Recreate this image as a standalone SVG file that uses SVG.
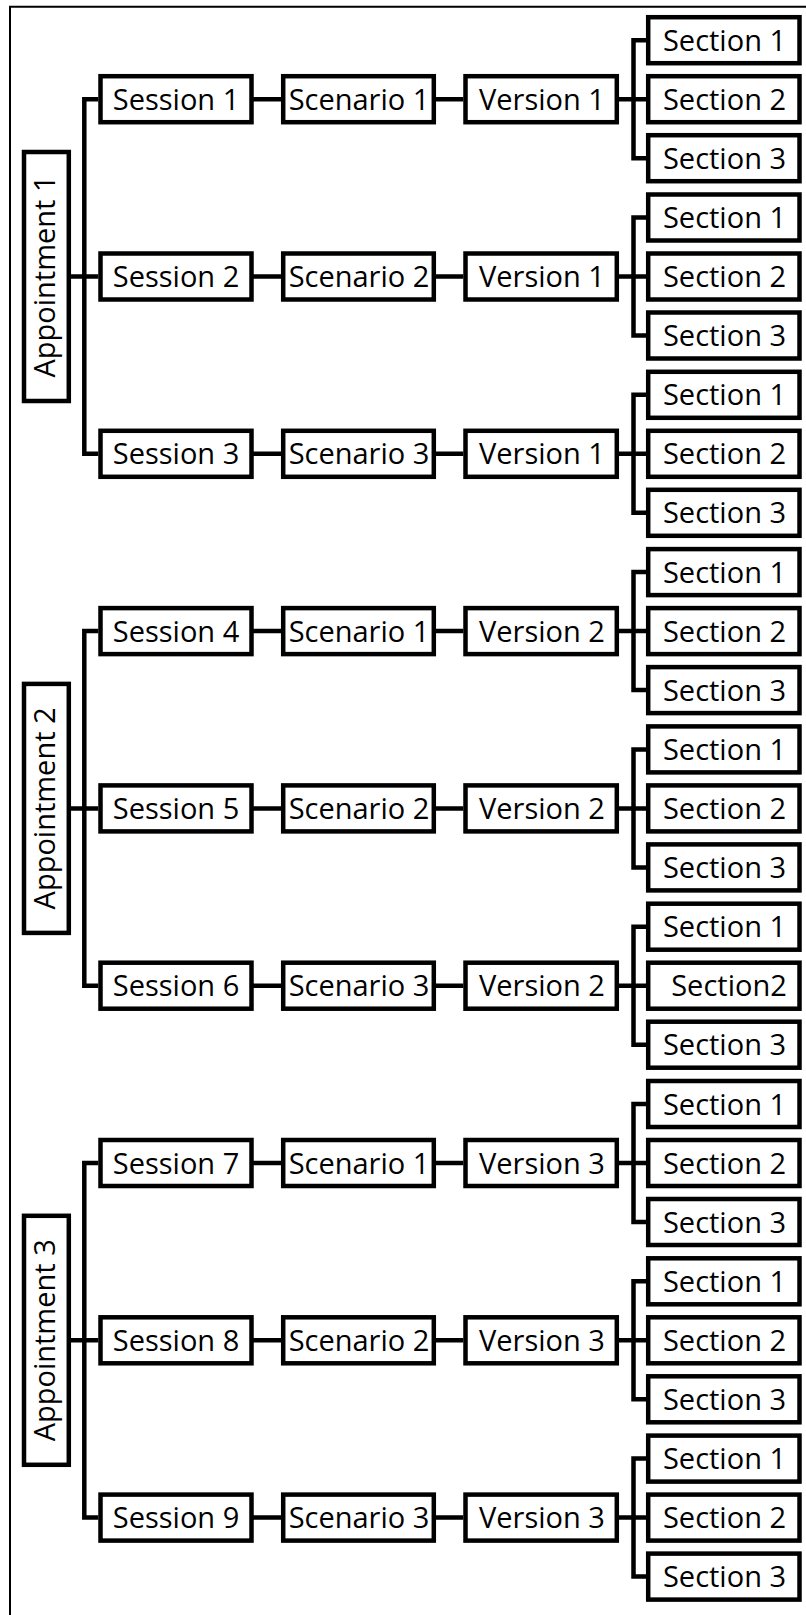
<svg xmlns="http://www.w3.org/2000/svg" width="806" height="1615" viewBox="0 0 806 1615">
<style>
.bx{fill:#fff;stroke:#000;stroke-width:4.5}
.ln{fill:none;stroke:#000;stroke-width:4.5}
.t{font-family:"Open Sans","Liberation Sans",sans-serif;font-size:29px;text-anchor:middle;fill:#000}
</style>
<rect width="806" height="1615" fill="#fff"/>
<path d="M10 1615 V6.7 H806" fill="none" stroke="#000" stroke-width="2"/>
<g id="connectors">
<path class="ln" d="M98.3 99.2 H84.3 V453.8 H98.3 M71 276.5 H98.3"/>
<path class="ln" d="M98.3 631.1 H84.3 V985.7 H98.3 M71 808.4 H98.3"/>
<path class="ln" d="M98.3 1163 H84.3 V1517.6 H98.3 M71 1340.3 H98.3"/>
<path class="ln" d="M253 99.2 H281 M436 99.2 H463.3 M619 99.2 H646 M646 40.2 H633.5 V158.2 H646"/>
<path class="ln" d="M253 276.5 H281 M436 276.5 H463.3 M619 276.5 H646 M646 217.5 H633.5 V335.5 H646"/>
<path class="ln" d="M253 453.8 H281 M436 453.8 H463.3 M619 453.8 H646 M646 394.8 H633.5 V512.8 H646"/>
<path class="ln" d="M253 631.1 H281 M436 631.1 H463.3 M619 631.1 H646 M646 572.1 H633.5 V690.1 H646"/>
<path class="ln" d="M253 808.4 H281 M436 808.4 H463.3 M619 808.4 H646 M646 749.4 H633.5 V867.4 H646"/>
<path class="ln" d="M253 985.7 H281 M436 985.7 H463.3 M619 985.7 H646 M646 926.7 H633.5 V1044.7 H646"/>
<path class="ln" d="M253 1163 H281 M436 1163 H463.3 M619 1163 H646 M646 1104 H633.5 V1222 H646"/>
<path class="ln" d="M253 1340.3 H281 M436 1340.3 H463.3 M619 1340.3 H646 M646 1281.3 H633.5 V1399.3 H646"/>
<path class="ln" d="M253 1517.6 H281 M436 1517.6 H463.3 M619 1517.6 H646 M646 1458.6 H633.5 V1576.6 H646"/>
</g>
<g id="appointment1"><rect class="bx" x="24" y="152" width="44.8" height="249"/><text class="t" transform="rotate(-90)" x="-276.5" y="55">Appointment 1</text></g>
<g id="appointment2"><rect class="bx" x="24" y="683.9" width="44.8" height="249"/><text class="t" transform="rotate(-90)" x="-808.4" y="55">Appointment 2</text></g>
<g id="appointment3"><rect class="bx" x="24" y="1215.8" width="44.8" height="249"/><text class="t" transform="rotate(-90)" x="-1340.3" y="55">Appointment 3</text></g>

<g id="session1"><rect class="bx" x="100.5" y="76.2" width="151" height="46"/><text class="t" x="176" y="109.7">Session 1</text></g>
<g id="scenario1a"><rect class="bx" x="283.2" y="76.2" width="150.6" height="46"/><text class="t" x="359" y="109.7">Scenario 1</text></g>
<g id="version1a"><rect class="bx" x="465.5" y="76.2" width="151.3" height="46"/><text class="t" x="542" y="109.7">Version 1</text></g>
<g id="s1sec1"><rect class="bx" x="648.2" y="17.2" width="151.3" height="46"/><text class="t" x="724.5" y="50.7">Section 1</text></g>
<g id="s1sec2"><rect class="bx" x="648.2" y="76.2" width="151.3" height="46"/><text class="t" x="724.5" y="109.7">Section 2</text></g>
<g id="s1sec3"><rect class="bx" x="648.2" y="135.2" width="151.3" height="46"/><text class="t" x="724.5" y="168.7">Section 3</text></g>

<g id="session2"><rect class="bx" x="100.5" y="253.5" width="151" height="46"/><text class="t" x="176" y="287">Session 2</text></g>
<g id="scenario2a"><rect class="bx" x="283.2" y="253.5" width="150.6" height="46"/><text class="t" x="359" y="287">Scenario 2</text></g>
<g id="version1b"><rect class="bx" x="465.5" y="253.5" width="151.3" height="46"/><text class="t" x="542" y="287">Version 1</text></g>
<g id="s2sec1"><rect class="bx" x="648.2" y="194.5" width="151.3" height="46"/><text class="t" x="724.5" y="228">Section 1</text></g>
<g id="s2sec2"><rect class="bx" x="648.2" y="253.5" width="151.3" height="46"/><text class="t" x="724.5" y="287">Section 2</text></g>
<g id="s2sec3"><rect class="bx" x="648.2" y="312.5" width="151.3" height="46"/><text class="t" x="724.5" y="346">Section 3</text></g>

<g id="session3"><rect class="bx" x="100.5" y="430.8" width="151" height="46"/><text class="t" x="176" y="464.3">Session 3</text></g>
<g id="scenario3a"><rect class="bx" x="283.2" y="430.8" width="150.6" height="46"/><text class="t" x="359" y="464.3">Scenario 3</text></g>
<g id="version1c"><rect class="bx" x="465.5" y="430.8" width="151.3" height="46"/><text class="t" x="542" y="464.3">Version 1</text></g>
<g id="s3sec1"><rect class="bx" x="648.2" y="371.8" width="151.3" height="46"/><text class="t" x="724.5" y="405.3">Section 1</text></g>
<g id="s3sec2"><rect class="bx" x="648.2" y="430.8" width="151.3" height="46"/><text class="t" x="724.5" y="464.3">Section 2</text></g>
<g id="s3sec3"><rect class="bx" x="648.2" y="489.8" width="151.3" height="46"/><text class="t" x="724.5" y="523.3">Section 3</text></g>

<g id="session4"><rect class="bx" x="100.5" y="608.1" width="151" height="46"/><text class="t" x="176" y="641.6">Session 4</text></g>
<g id="scenario1b"><rect class="bx" x="283.2" y="608.1" width="150.6" height="46"/><text class="t" x="359" y="641.6">Scenario 1</text></g>
<g id="version2a"><rect class="bx" x="465.5" y="608.1" width="151.3" height="46"/><text class="t" x="542" y="641.6">Version 2</text></g>
<g id="s4sec1"><rect class="bx" x="648.2" y="549.1" width="151.3" height="46"/><text class="t" x="724.5" y="582.6">Section 1</text></g>
<g id="s4sec2"><rect class="bx" x="648.2" y="608.1" width="151.3" height="46"/><text class="t" x="724.5" y="641.6">Section 2</text></g>
<g id="s4sec3"><rect class="bx" x="648.2" y="667.1" width="151.3" height="46"/><text class="t" x="724.5" y="700.6">Section 3</text></g>

<g id="session5"><rect class="bx" x="100.5" y="785.4" width="151" height="46"/><text class="t" x="176" y="818.9">Session 5</text></g>
<g id="scenario2b"><rect class="bx" x="283.2" y="785.4" width="150.6" height="46"/><text class="t" x="359" y="818.9">Scenario 2</text></g>
<g id="version2b"><rect class="bx" x="465.5" y="785.4" width="151.3" height="46"/><text class="t" x="542" y="818.9">Version 2</text></g>
<g id="s5sec1"><rect class="bx" x="648.2" y="726.4" width="151.3" height="46"/><text class="t" x="724.5" y="759.9">Section 1</text></g>
<g id="s5sec2"><rect class="bx" x="648.2" y="785.4" width="151.3" height="46"/><text class="t" x="724.5" y="818.9">Section 2</text></g>
<g id="s5sec3"><rect class="bx" x="648.2" y="844.4" width="151.3" height="46"/><text class="t" x="724.5" y="877.9">Section 3</text></g>

<g id="session6"><rect class="bx" x="100.5" y="962.7" width="151" height="46"/><text class="t" x="176" y="996.2">Session 6</text></g>
<g id="scenario3b"><rect class="bx" x="283.2" y="962.7" width="150.6" height="46"/><text class="t" x="359" y="996.2">Scenario 3</text></g>
<g id="version2c"><rect class="bx" x="465.5" y="962.7" width="151.3" height="46"/><text class="t" x="542" y="996.2">Version 2</text></g>
<g id="s6sec1"><rect class="bx" x="648.2" y="903.7" width="151.3" height="46"/><text class="t" x="724.5" y="937.2">Section 1</text></g>
<g id="s6sec2"><rect class="bx" x="648.2" y="962.7" width="151.3" height="46"/><text class="t" x="729" y="996.2">Section2</text></g>
<g id="s6sec3"><rect class="bx" x="648.2" y="1021.7" width="151.3" height="46"/><text class="t" x="724.5" y="1055.2">Section 3</text></g>

<g id="session7"><rect class="bx" x="100.5" y="1140" width="151" height="46"/><text class="t" x="176" y="1173.5">Session 7</text></g>
<g id="scenario1c"><rect class="bx" x="283.2" y="1140" width="150.6" height="46"/><text class="t" x="359" y="1173.5">Scenario 1</text></g>
<g id="version3a"><rect class="bx" x="465.5" y="1140" width="151.3" height="46"/><text class="t" x="542" y="1173.5">Version 3</text></g>
<g id="s7sec1"><rect class="bx" x="648.2" y="1081" width="151.3" height="46"/><text class="t" x="724.5" y="1114.5">Section 1</text></g>
<g id="s7sec2"><rect class="bx" x="648.2" y="1140" width="151.3" height="46"/><text class="t" x="724.5" y="1173.5">Section 2</text></g>
<g id="s7sec3"><rect class="bx" x="648.2" y="1199" width="151.3" height="46"/><text class="t" x="724.5" y="1232.5">Section 3</text></g>

<g id="session8"><rect class="bx" x="100.5" y="1317.3" width="151" height="46"/><text class="t" x="176" y="1350.8">Session 8</text></g>
<g id="scenario2c"><rect class="bx" x="283.2" y="1317.3" width="150.6" height="46"/><text class="t" x="359" y="1350.8">Scenario 2</text></g>
<g id="version3b"><rect class="bx" x="465.5" y="1317.3" width="151.3" height="46"/><text class="t" x="542" y="1350.8">Version 3</text></g>
<g id="s8sec1"><rect class="bx" x="648.2" y="1258.3" width="151.3" height="46"/><text class="t" x="724.5" y="1291.8">Section 1</text></g>
<g id="s8sec2"><rect class="bx" x="648.2" y="1317.3" width="151.3" height="46"/><text class="t" x="724.5" y="1350.8">Section 2</text></g>
<g id="s8sec3"><rect class="bx" x="648.2" y="1376.3" width="151.3" height="46"/><text class="t" x="724.5" y="1409.8">Section 3</text></g>

<g id="session9"><rect class="bx" x="100.5" y="1494.6" width="151" height="46"/><text class="t" x="176" y="1528.1">Session 9</text></g>
<g id="scenario3c"><rect class="bx" x="283.2" y="1494.6" width="150.6" height="46"/><text class="t" x="359" y="1528.1">Scenario 3</text></g>
<g id="version3c"><rect class="bx" x="465.5" y="1494.6" width="151.3" height="46"/><text class="t" x="542" y="1528.1">Version 3</text></g>
<g id="s9sec1"><rect class="bx" x="648.2" y="1435.6" width="151.3" height="46"/><text class="t" x="724.5" y="1469.1">Section 1</text></g>
<g id="s9sec2"><rect class="bx" x="648.2" y="1494.6" width="151.3" height="46"/><text class="t" x="724.5" y="1528.1">Section 2</text></g>
<g id="s9sec3"><rect class="bx" x="648.2" y="1553.6" width="151.3" height="46"/><text class="t" x="724.5" y="1587.1">Section 3</text></g>
</svg>
